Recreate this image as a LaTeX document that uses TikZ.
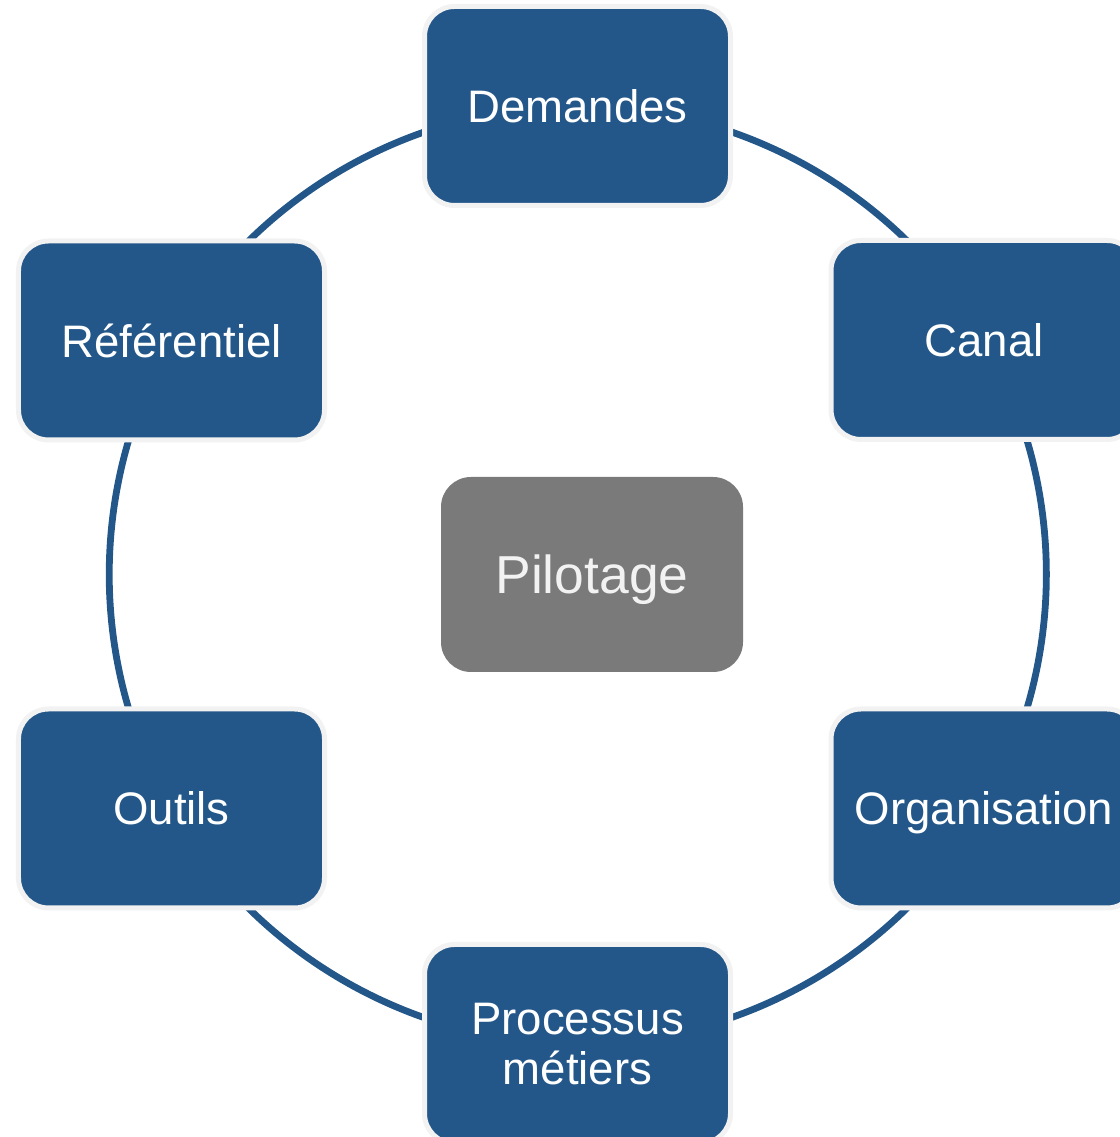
\documentclass[tikz,border=0pt]{standalone}
\usepackage{fontspec}
\setmainfont{Liberation Sans}
\usepackage{tikz}
\usetikzlibrary{backgrounds}
\definecolor{boxblue}{RGB}{36,87,137}
\definecolor{boxgray}{RGB}{122,122,122}
\definecolor{rimgray}{RGB}{242,242,242}

\begin{document}
\begin{tikzpicture}[x=0.25mm,y=0.25mm,
    part/.style={draw=rimgray,line width=1.25mm,fill=boxblue,text=white,rounded corners=7.5mm,
        minimum width=76.5mm,minimum height=49.75mm,inner sep=0pt,align=center,
        font=\fontsize{32.4}{35}\selectfont},
    hub/.style={fill=boxgray,text=rimgray,rounded corners=7.5mm,minimum width=75.5mm,
        minimum height=48.75mm,inner sep=0pt,text depth=0pt,font=\fontsize{38}{41}\selectfont},
    ring/.style={draw=boxblue,line width=1.7mm,bend left=30,looseness=0.91}]
            \useasboundingbox (0,0) rectangle (1120,1137);
            \clip (0,0) rectangle (1120,1137);
            \node[part] (1) at (577.5,1031) {Demandes};
            \node[part] (2) at (984,797) {Canal};
            \node[part,text depth=0pt] (3) at (984,328.5) {Organisation};
            \node[part] (4) at (577.5,93) {Processus\\métiers};
            \node[part] (5) at (171.5,328.5) {Outils};
            \node[part] (6) at (171.5,796.5) {Référentiel};
            \node[hub] (0) at (592,562.5) {Pilotage};
            \begin{scope}[on background layer]
                \draw[ring] (1.center) to (2.center);
                \draw[ring] (2.center) to (3.center);
                \draw[ring] (3.center) to (4.center);
                \draw[ring] (4.center) to (5.center);
                \draw[ring] (5.center) to (6.center);
                \draw[ring] (6.center) to (1.center);
            \end{scope}
        \end{tikzpicture}
\end{document}
